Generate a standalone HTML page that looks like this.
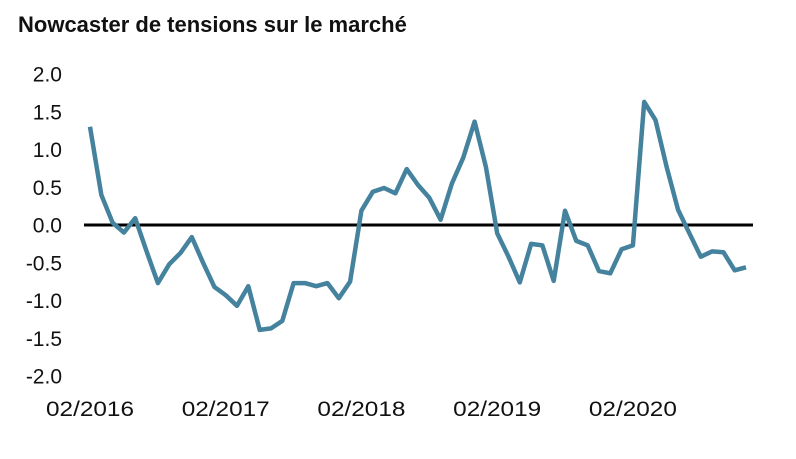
<!DOCTYPE html>
<html><head><meta charset="utf-8"><style>
body{margin:0;background:#fff;}
svg{display:block;font-family:"Liberation Sans",sans-serif;}
</style></head><body>
<svg width="796" height="459">
<text x="18" y="32" font-size="22" font-weight="bold" fill="#111">Nowcaster de tensions sur le marché</text>
<g id="yaxis"></g>
<g id="xaxis"></g>
<line x1="84" x2="753" y1="225" y2="225" stroke="#000" stroke-width="3"/>
<path id="line" fill="none" stroke="#44829e" stroke-width="4.5" stroke-linejoin="round"/>
</svg>
<script>
const values=[1.30,0.40,0.03,-0.10,0.09,-0.35,-0.77,-0.52,-0.37,-0.16,-0.50,-0.82,-0.93,-1.07,-0.81,-1.39,-1.37,-1.27,-0.77,-0.77,-0.81,-0.77,-0.97,-0.75,0.19,0.44,0.49,0.42,0.74,0.53,0.36,0.07,0.55,0.89,1.37,0.77,-0.11,-0.42,-0.76,-0.25,-0.27,-0.74,0.19,-0.21,-0.27,-0.61,-0.64,-0.32,-0.27,1.63,1.39,0.76,0.20,-0.11,-0.42,-0.35,-0.36,-0.60,-0.56];
const yTicks=[2.0,1.5,1.0,0.5,0.0,-0.5,-1.0,-1.5,-2.0];
const xTickLabels=["02/2016","02/2017","02/2018","02/2019","02/2020"];
const xTickIndex=[0,12,24,36,48];
const ns="http://www.w3.org/2000/svg";
const y=v=>225-v*75.5;
const x0=90,x1=746;
const x=i=>x0+i*(x1-x0)/(values.length-1);
const ya=document.getElementById('yaxis');
yTicks.forEach(t=>{const e=document.createElementNS(ns,'text');


e.setAttribute('x',62);e.setAttribute('y',y(t)+7.5);e.setAttribute('font-size','21');e.setAttribute('fill','#111');e.setAttribute('text-anchor','end');
e.textContent=t.toFixed(1);ya.appendChild(e);});
const xa=document.getElementById('xaxis');
xTickLabels.forEach((l,k)=>{const e=document.createElementNS(ns,'text');


e.setAttribute('x',x(xTickIndex[k])-44);e.setAttribute('y',416);e.setAttribute('font-size','21');e.setAttribute('fill','#111');
e.setAttribute('textLength','88');e.setAttribute('lengthAdjust','spacingAndGlyphs');
e.textContent=l;xa.appendChild(e);});
document.getElementById('line').setAttribute('d',values.map((v,i)=>(i?'L':'M')+x(i).toFixed(1)+','+y(v).toFixed(1)).join(''));
</script>
</body></html>
